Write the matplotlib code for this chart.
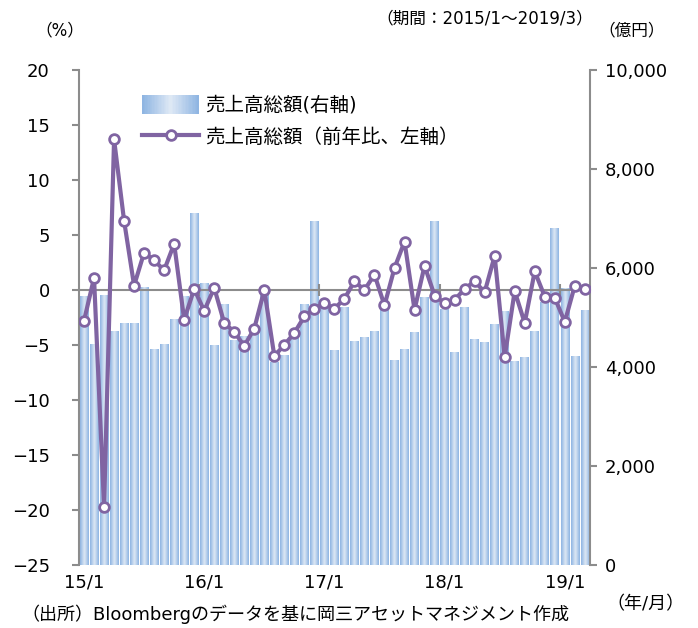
import numpy as np
import matplotlib
matplotlib.use("Agg")
import matplotlib.pyplot as plt
from matplotlib.colors import LinearSegmentedColormap
from matplotlib.ticker import FuncFormatter
from matplotlib.legend_handler import HandlerBase
from matplotlib.patches import Rectangle
from matplotlib.container import BarContainer

plt.rcParams['font.family'] = ['DejaVu Sans', 'Noto Sans CJK JP']

# monthly data 2015/1 - 2019/3
sales = [5440, 4470, 5460, 4730, 4890, 4890, 5610, 4370, 4470, 4970, 5430, 7110,
         5690, 4450, 5280, 4550, 4630, 4770, 5540, 4100, 4250, 4640, 5280, 6950,
         5300, 4350, 5215, 4530, 4610, 4730, 5290, 4150, 4370, 4710, 5420, 6950,
         5180, 4310, 5220, 4570, 4500, 4870, 5135, 4130, 4210, 4730, 5320, 6810,
         5600, 4230, 5150]
yoy = [-2.8, 1.1, -19.7, 13.7, 6.3, 0.4, 3.4, 2.7, 1.8, 4.2, -2.7, 0.1,
       -1.9, 0.2, -3.0, -3.8, -5.1, -3.5, 0.0, -6.0, -5.0, -3.9, -2.4, -1.7,
       -1.2, -1.7, -0.8, 0.8, 0.0, 1.4, -1.4, 2.0, 4.4, -1.8, 2.2, -0.5,
       -1.2, -0.9, 0.1, 0.8, -0.2, 3.1, -6.1, -0.1, -3.0, 1.7, -0.6, -0.7,
       -2.9, 0.4, 0.1]
tick_pos = [0, 12, 24, 36, 48]
tick_labels = ['15/1', '16/1', '17/1', '18/1', '19/1']

grey = '#8c8c8c'
purple = '#8064a2'
x = np.arange(len(sales))

cmap = LinearSegmentedColormap.from_list('bar', ['#8db4e2', '#dfe9f5', '#8db4e2'])


# gradient patch for the legend
class GradientHandler(HandlerBase):
    def create_artists(self, legend, orig, xd, yd, width, height, fontsize, trans):
        n = 40
        out = []
        for i in range(n):
            r = Rectangle((-xd + width * i / n, -yd), width / n * 1.2, height,
                          facecolor=cmap((i + 0.5) / n), edgecolor='none',
                          linewidth=0, transform=trans)
            out.append(r)
        return out


fig = plt.figure(figsize=(6.98, 6.28), dpi=100)
ax = fig.add_axes([0.1132, 0.1003, 0.7318, 0.7882])
ax2 = ax.twinx()

# bars with horizontal gradient
grad = np.linspace(0, 1, 32).reshape(1, -1)
bars = ax2.bar(x, sales, width=0.85, color='#b8cfec', linewidth=0, label='売上高総額(右軸)')
for b in bars:
    im = ax2.imshow(grad, cmap=cmap, aspect='auto', interpolation='bicubic', zorder=2,
                    extent=(b.get_x(), b.get_x() + b.get_width(), 0, b.get_height()))
    im.set_clip_path(b)

ax.plot(x, yoy, color=purple, lw=3, marker='o', ms=7, mfc='white', mec=purple, mew=2,
        label='売上高総額（前年比、左軸）', zorder=5)

ax.set_zorder(ax2.get_zorder() + 1)
ax.patch.set_visible(False)

ax.set_xlim(-0.5, len(sales) - 0.5)
ax.set_ylim(-25, 20)
ax2.set_ylim(0, 10000)
ax.set_yticks(np.arange(-25, 21, 5))
ax2.set_yticks(np.arange(0, 10001, 2000))
ax2.yaxis.set_major_formatter(FuncFormatter(lambda v, p: f'{int(v):,}'))

for a in (ax, ax2):
    for s in ('top', 'bottom'):
        a.spines[s].set_visible(False)
    a.spines['left'].set_color(grey)
    a.spines['right'].set_color(grey)
    a.spines['left'].set_linewidth(1.5)
    a.spines['right'].set_linewidth(1.5)
ax.spines['right'].set_visible(False)
ax2.spines['left'].set_visible(False)

ax.tick_params(axis='y', length=5, width=1.5, color=grey, labelsize=13, pad=16)
ax2.tick_params(axis='y', length=5, width=1.5, color=grey, labelsize=13, pad=6)
ax.set_xticks(tick_pos)
ax.set_xticklabels(tick_labels)
ax.tick_params(axis='x', length=0, labelsize=13, pad=6)

# zero line with year boundary ticks
zero = ax.secondary_xaxis(25 / 45)
for s in zero.spines.values():
    s.set_color(grey)
    s.set_linewidth(1.5)
zero.set_xticks([11.5, 23.5, 35.5, 47.5])
zero.set_xticklabels([])
zero.tick_params(axis='x', direction='inout', length=9, width=1.5, color=grey)

h1, l1 = ax2.get_legend_handles_labels()
h2, l2 = ax.get_legend_handles_labels()
ax.legend(h1 + h2, l1 + l2, loc='upper left', bbox_to_anchor=(0.09, 0.985), frameon=False,
          fontsize=14, handlelength=2.9, handleheight=1.1, labelspacing=0.6, handletextpad=0.3,
          handler_map={BarContainer: GradientHandler()})

fig.text(0.085, 0.952, '（%）', ha='center', va='center', fontsize=12)
fig.text(0.905, 0.952, '（億円）', ha='center', va='center', fontsize=12)
fig.text(0.85, 0.970, '（期間：2015/1～2019/3）', ha='right', va='center', fontsize=12)
fig.text(0.925, 0.037, '（年/月）', ha='center', va='center', fontsize=13)
fig.text(0.03, 0.022, '（出所）Bloombergのデータを基に岡三アセットマネジメント作成', ha='left',
         va='center', fontsize=13)

fig.savefig('out.png', dpi=100)
